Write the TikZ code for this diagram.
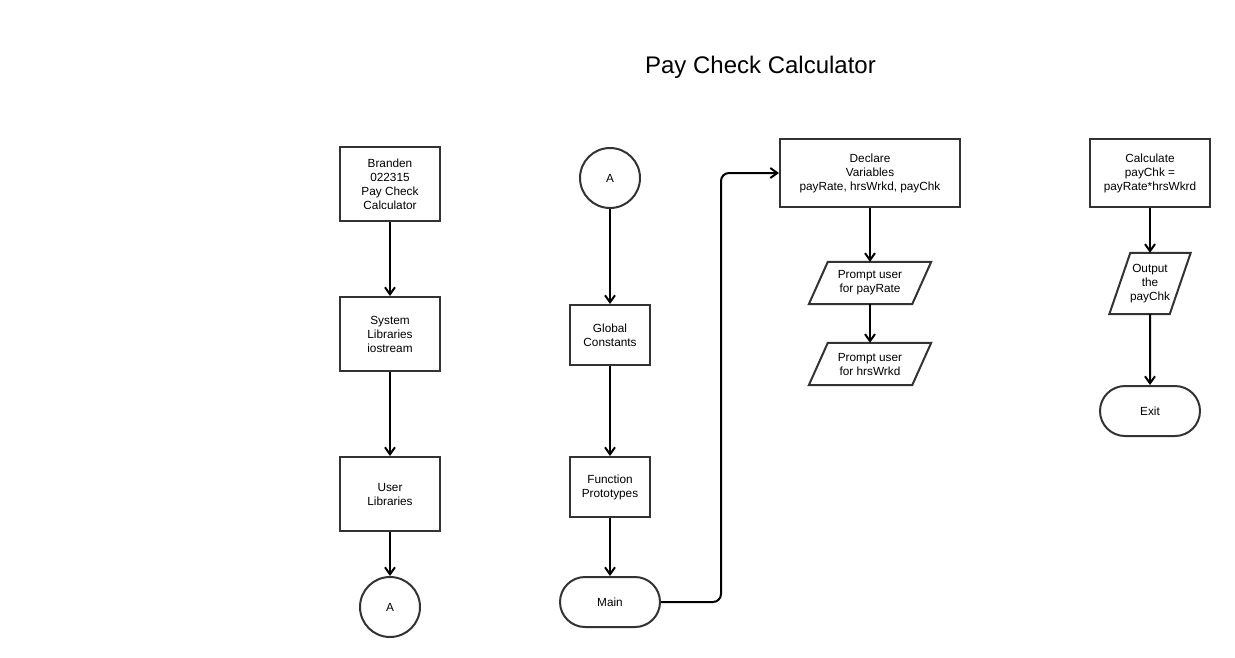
\documentclass[tikz,border=0pt]{standalone}
\usepackage{fontspec}
\setmainfont{Liberation Sans}
\usetikzlibrary{arrows.meta,calc,shapes.misc}
\definecolor{edge}{HTML}{333333}
\tikzset{
  box/.style={draw=edge,line width=2pt,fill=white,inner sep=0pt,align=center,
    font=\fontsize{11.8}{14}\selectfont},
  proc/.style={box,rectangle},
  conn/.style={box,circle,minimum size=60pt},
  term/.style={box,rounded rectangle,minimum width=100pt,minimum height=50pt},
  iobody/.style={inner sep=0pt,align=center,font=\fontsize{11.8}{14}\selectfont},
  iopath/.style={draw=edge,line width=2pt},
  arr/.style={line width=2pt,-{Straight Barb[length=7pt,width=10pt,line width=2pt]}},
}
\begin{document}
\begin{tikzpicture}[x=1pt,y=-1pt]
\useasboundingbox (0,0) rectangle (1235,657);
\node[font=\fontsize{24}{28}\selectfont] (title) at (760.5,67.5) {Pay Check Calculator};
% column 1
\node[proc,minimum width=100pt,minimum height=74pt] (b1) at (390,184) {Branden\\022315\\Pay Check\\Calculator};
\node[proc,minimum width=100pt,minimum height=74pt] (b2) at (390,334) {System\\Libraries\\iostream};
\node[proc,minimum width=100pt,minimum height=74pt] (b3) at (390,494) {User\\Libraries};
\node[conn] (c1) at (390,607) {A};
% column 2
\node[conn] (c2) at (610,178) {A};
\node[proc,minimum width=80pt,minimum height=60pt] (b4) at (610,335) {Global\\Constants};
\node[proc,minimum width=80pt,minimum height=60pt] (b5) at (610,487) {Function\\Prototypes};
\node[term] (m) at (610,602) {Main};
% column 3
\node[proc,minimum width=180pt,minimum height=68pt] (d) at (870,173) {Declare\\Variables\\payRate, hrsWrkd, payChk};
\node[iobody,minimum width=103pt,minimum height=42pt] (p1) at (870,283) {Prompt user\\for payRate};
\node[iobody,minimum width=103pt,minimum height=42pt] (p2) at (870,364) {Prompt user\\for hrsWrkd};
% column 4
\node[proc,minimum width=120pt,minimum height=68pt] (k) at (1150,173) {Calculate\\payChk =\\payRate*hrsWkrd};
\node[iobody,minimum width=60pt,minimum height=61pt] (o) at (1150,283.5) {Output\\the\\payChk};
\node[term] (x) at (1150,411) {Exit};
% parallelogram outlines
\foreach \n/\s in {p1/9.5,p2/9.5,o/10.5}{
  \draw[iopath,line join=miter] ($(\n.north west)+(\s,0)$) -- ($(\n.north east)+(\s,0)$)
    -- ($(\n.south east)+(-\s,0)$) -- ($(\n.south west)+(-\s,0)$) -- cycle;
}
% connectors
\draw[arr] (b1) -- (b2);
\draw[arr] (b2) -- (b3);
\draw[arr] (b3) -- (c1);
\draw[arr] (c2) -- (b4);
\draw[arr] (b4) -- (b5);
\draw[arr] (b5) -- (m);
\draw[arr,rounded corners=8pt] (m.east) -- ++(60,0) |- (d.west);
\draw[arr] (d) -- (p1);
\draw[arr] (p1) -- (p2);
\draw[arr] (k) -- (o);
\draw[arr] (o) -- (x);
\end{tikzpicture}
\end{document}
